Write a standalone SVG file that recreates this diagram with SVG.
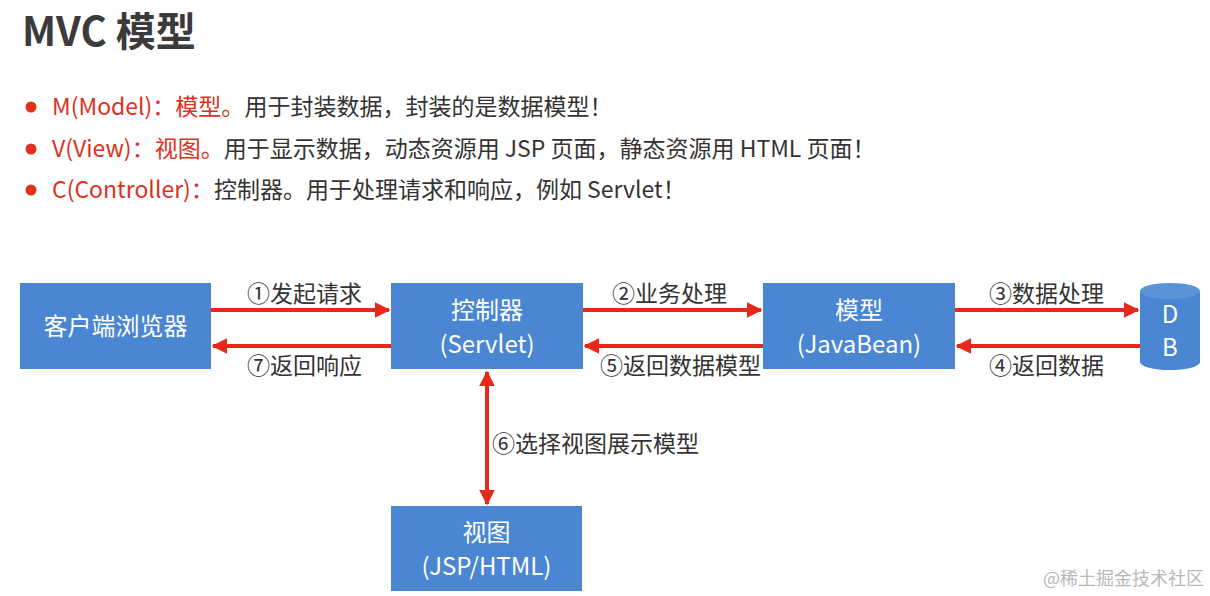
<svg xmlns="http://www.w3.org/2000/svg" width="1210" height="596" viewBox="0 0 1210 596">
<defs>
<style>
text{font-family:"Microsoft YaHei","Noto Sans CJK SC","Noto Sans",sans-serif;}
.title{font-size:40px;font-weight:bold;fill:#3b3b3b;}
.bl{font-size:23px;fill:#333;}
.red{fill:#e0301e;}
.box{fill:#4a86d1;}
.bt{font-size:24px;fill:#fff;text-anchor:middle;}
.lbl{font-size:23px;fill:#333;}
.arr{stroke:#e8281a;stroke-width:4;fill:none;}
.wm{font-size:18px;fill:#b8b8b8;}
</style>
<marker id="ah" viewBox="0 0 10 10" refX="9" refY="5" markerWidth="4" markerHeight="4" orient="auto-start-reverse" markerUnits="strokeWidth">
<path d="M0,0 L10,5 L0,10 z" fill="#e8281a"/>
</marker>
</defs>
<rect width="1210" height="596" fill="#fff"/>
<text class="title" x="22" y="46">MVC 模型</text>
<g id="bullets">
<circle cx="31" cy="107" r="5.5" fill="#e0301e"/>
<circle cx="31" cy="149" r="5.5" fill="#e0301e"/>
<circle cx="31" cy="190" r="5.5" fill="#e0301e"/>
<text class="bl" x="52" y="115"><tspan class="red">M(Model)：模型。</tspan>用于封装数据，封装的是数据模型！</text>
<text class="bl" x="52" y="157"><tspan class="red">V(View)：视图。</tspan>用于显示数据，动态资源用 JSP 页面，静态资源用 HTML 页面！</text>
<text class="bl" x="52" y="198"><tspan class="red">C(Controller)：</tspan>控制器。用于处理请求和响应，例如 Servlet！</text>
</g>
<g id="browser"><rect class="box" x="20" y="283" width="191" height="86"/><text class="bt" x="115.5" y="335">客户端浏览器</text></g>
<g id="controller"><rect class="box" x="391" y="283" width="192" height="86"/><text class="bt" x="487" y="319">控制器</text><text class="bt" x="487" y="353">(Servlet)</text></g>
<g id="model"><rect class="box" x="763" y="283" width="192" height="86"/><text class="bt" x="859" y="319">模型</text><text class="bt" x="859" y="353">(JavaBean)</text></g>
<g id="view"><rect class="box" x="391" y="506" width="191" height="85"/><text class="bt" x="486.5" y="541">视图</text><text class="bt" x="486.5" y="575">(JSP/HTML)</text></g>
<g id="db">
<path class="box" d="M1140,291 L1140,362 A30,8 0 0 0 1200,362 L1200,291 z"/>
<ellipse cx="1170" cy="291" rx="30" ry="8" fill="#5b93d8"/>
<text class="bt" x="1170" y="323">D</text><text class="bt" x="1170" y="356">B</text>
</g>
<g id="connectors">
<line class="arr" x1="211" y1="310" x2="389" y2="310" marker-end="url(#ah)"/>
<line class="arr" x1="391" y1="346" x2="213" y2="346" marker-end="url(#ah)"/>
<line class="arr" x1="583" y1="310" x2="761" y2="310" marker-end="url(#ah)"/>
<line class="arr" x1="763" y1="346" x2="585" y2="346" marker-end="url(#ah)"/>
<line class="arr" x1="955" y1="310" x2="1138" y2="310" marker-end="url(#ah)"/>
<line class="arr" x1="1140" y1="346" x2="957" y2="346" marker-end="url(#ah)"/>
<line class="arr" x1="487" y1="372" x2="487" y2="504" marker-start="url(#ah)" marker-end="url(#ah)"/>
<text class="lbl" x="247" y="302">①发起请求</text>
<text class="lbl" x="247" y="374">⑦返回响应</text>
<text class="lbl" x="612" y="302">②业务处理</text>
<text class="lbl" x="600" y="374">⑤返回数据模型</text>
<text class="lbl" x="989" y="302">③数据处理</text>
<text class="lbl" x="989" y="374">④返回数据</text>
<text class="lbl" x="492" y="452">⑥选择视图展示模型</text>
</g>
<text class="wm" x="1043" y="585">@稀土掘金技术社区</text>
</svg>
